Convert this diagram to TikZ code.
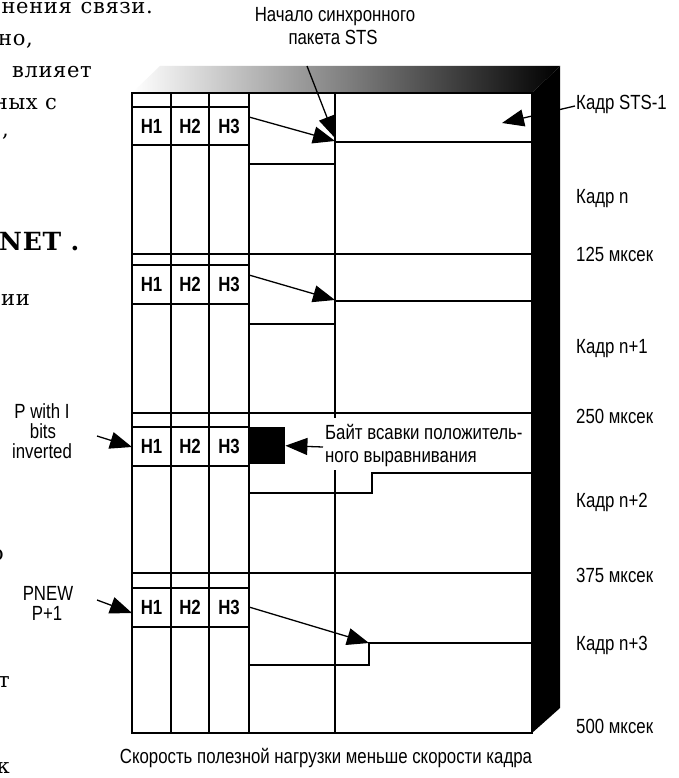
\documentclass[tikz,border=0pt]{standalone}
\usepackage{fontspec}
\setmainfont{Liberation Sans}[FakeStretch=0.82]
\newfontfamily\bodyserif{DejaVu Serif}[LetterSpace=3]
\usetikzlibrary{arrows.meta}
\tikzset{
  gridline/.style={line width=1.3pt, line cap=rect},
  lbl/.style={font=\fontsize{20.5}{24}\selectfont, inner sep=0pt},
  hcell/.style={font=\fontsize{20.5}{24}\selectfont\bfseries, inner sep=0pt},
  ptr/.style={line width=1.3pt, -{Triangle[length=22pt,width=17pt]}},
  frag/.style={font=\fontsize{21}{24}\selectfont\bodyserif, inner sep=0pt, anchor=base east},
}
\begin{document}
\begin{tikzpicture}[x=1pt,y=-1pt]
\path[use as bounding box] (0,0) rectangle (679,778);
\clip (0,0) rectangle (679,778);
\fill[white] (0,0) rectangle (679,778);

% cropped body text of the page
\node[frag] (f1a) at (72,14) {нения};
\node[frag] (f1b) at (153,14) {связи.};
\node[frag] (f2) at (33,46) {но,};
\node[frag] (f3) at (92,78) {влияет};
\node[frag] (f4) at (57,110) {ных с};
\node[frag] (f5) at (9,137) {,};
\node[frag, anchor=base west, font=\fontsize{25}{30}\selectfont\bodyserif\bfseries] (f6) at (-1,250) {NET .};
\node[frag] (f7) at (30,305) {ии};
\node[frag] (f8) at (4,560) {о};
\node[frag] (f9) at (2,652) {,};
\node[frag] (f10) at (10,687) {т};
\node[frag] (f11) at (10,773) {к};

% 3D faces
\shade[left color=white, right color=black] (132,93) -- (160,66) -- (560,66) -- (532,93) -- cycle;
\fill[black] (532,93) -- (560,66) -- (560,708) -- (532,733) -- cycle;

% grid
\draw[gridline] (132,93) rectangle (532,733);
\foreach \x in {171,209,249,335} \draw[gridline] (\x,93) -- (\x,733);
\foreach \y in {254,413,573} \draw[gridline] (132,\y) -- (532,\y);
\foreach \y in {107,145,265,304,427,466,588,627} \draw[gridline] (132,\y) -- (249,\y);
\draw[gridline] (249,164) -- (335,164);
\draw[gridline] (249,324) -- (335,324);
\draw[gridline] (335,142) -- (532,142);
\draw[gridline] (335,301) -- (532,301);
\draw[gridline] (249,493) -- (372,493) -- (372,473) -- (532,473);
\draw[gridline] (249,665) -- (369,665) -- (369,643) -- (532,643);

% header cells
\foreach \r/\yc in {a/126,b/284.5,c/446.5,d/607.5}{
  \node[hcell] (h1\r) at (151.5,\yc) {H1};
  \node[hcell] (h2\r) at (190,\yc) {H2};
  \node[hcell] (h3\r) at (229,\yc) {H3};
}

% stuff byte
\node[fill=black, inner sep=0pt, minimum width=36pt, minimum height=37pt, anchor=north west] (byte) at (249,427) {};

% pointer ends
\coordinate (s1) at (249,117);
\coordinate (t1) at (335,141);
\coordinate (s2) at (249,275);
\coordinate (t2) at (335,300);
\coordinate (s4) at (249,607);
\coordinate (t4) at (369,643);
\coordinate (stsstart) at (307,66);
\coordinate (ststip) at (335,138);
\coordinate (frtip) at (502,123);
\coordinate (frstart) at (575,106);
\coordinate (pinvs) at (97,436);
\coordinate (pinvt) at (132,447);
\coordinate (pnews) at (97,600);
\coordinate (pnewt) at (132,613);
\coordinate (bytes) at (323,447);

\draw[ptr] (s1) -- (t1);
\draw[ptr] (s2) -- (t2);
\draw[ptr] (s4) -- (t4);
\draw[ptr] (stsstart) -- (ststip);
\draw[ptr] (frstart) -- (frtip);
\draw[ptr] (pinvs) -- (pinvt);
\draw[ptr] (pnews) -- (pnewt);

% stuff byte label
\fill[white] (322,418) rectangle (524,470);
\node[lbl, anchor=base west] (bl1) at (325,439) {Байт всавки положитель-};
\node[lbl, anchor=base west] (bl2) at (325,462) {ного выравнивания};
\draw[ptr] (bytes) -- (byte.east);

% top label
\node[lbl, anchor=base] (top1) at (335,22) {Начало синхронного};
\node[lbl, anchor=base] (top2) at (333,45) {пакета STS};

% left labels
\node[lbl, anchor=base] (pi1) at (42,418) {P with I};
\node[lbl, anchor=base] (pi2) at (43,438) {bits};
\node[lbl, anchor=base] (pi3) at (42,458) {inverted};
\node[lbl, anchor=base] (pn1) at (48,600) {PNEW};
\node[lbl, anchor=base] (pn2) at (47,620) {P+1};

% right labels
\node[lbl, anchor=base west] (r1) at (576,110) {Кадр STS-1};
\node[lbl, anchor=base west] (r2) at (576,203) {Кадр n};
\node[lbl, anchor=base west] (r3) at (576,261) {125 мксек};
\node[lbl, anchor=base west] (r4) at (576,353) {Кадр n+1};
\node[lbl, anchor=base west] (r5) at (576,423) {250 мксек};
\node[lbl, anchor=base west] (r6) at (576,507) {Кадр n+2};
\node[lbl, anchor=base west] (r7) at (576,582) {375 мксек};
\node[lbl, anchor=base west] (r8) at (576,650) {Кадр n+3};
\node[lbl, anchor=base west] (r9) at (576,733) {500 мксек};

% caption
\node[lbl, anchor=base] (cap) at (326,763) {Скорость полезной нагрузки меньше скорости кадра};
\end{tikzpicture}
\end{document}
